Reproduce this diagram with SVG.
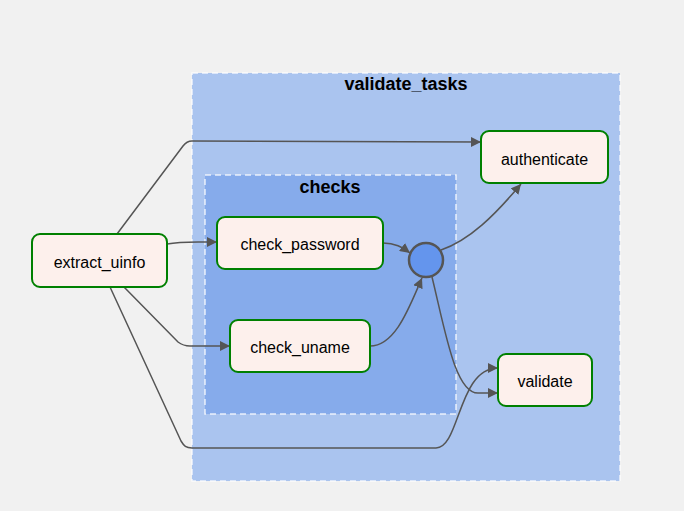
<svg xmlns="http://www.w3.org/2000/svg" width="684" height="511" viewBox="0 0 684 511">
<style>
.bg{fill:#f1f1f1}
.cl{stroke:#ffffff;stroke-width:1.5;stroke-dasharray:6,4;stroke-opacity:0.8}
.title{font-family:"Liberation Sans",Arial,sans-serif;font-size:18px;font-weight:bold;fill:#000;text-anchor:middle}
.node rect{fill:#fdf0ec;stroke:#008000;stroke-width:2}
.node text{font-family:"Liberation Sans",Arial,sans-serif;font-size:16px;fill:#000;text-anchor:middle}
.edges path{fill:none;stroke:#555;stroke-width:1.5}
</style>
<defs>
<marker id="arr" viewBox="0 0 10 10" refX="10" refY="5" markerWidth="10" markerHeight="10" markerUnits="userSpaceOnUse" orient="auto">
<path d="M0,0 L10,5 L0,10 z" fill="#555"/>
</marker>
</defs>
<rect class="bg" x="0" y="0" width="684" height="511"/>
<g id="cluster-validate_tasks">
<rect class="cl" x="192" y="73" width="428" height="408" fill="#aac4ef"/>
<text class="title" x="406" y="90">validate_tasks</text>
</g>
<g id="cluster-checks">
<rect class="cl" x="205" y="175" width="251" height="239" fill="#86abeb"/>
<text class="title" x="330" y="193">checks</text>
</g>
<g class="edges" id="edges">
<path d="M117,234 L183,146 C186,142 188,141 192,141 L481,142" marker-end="url(#arr)"/>
<path d="M167,244 C182,241 192,242 217,242" marker-end="url(#arr)"/>
<path d="M124,287 L178,342 C182,345 185,346 190,346 L230,346" marker-end="url(#arr)"/>
<path d="M110,287 L181,441 C184,446 186,448 192,448 L436,448 C460,448 458,368 498,368" marker-end="url(#arr)"/>
<path d="M383,243 C395,243 402,247 410,253" marker-end="url(#arr)"/>
<path d="M370,346 C396,346 410,305 422,278" marker-end="url(#arr)"/>
<path d="M441,250 C470,240 495,215 521,184" marker-end="url(#arr)"/>
<path d="M432,277 C445,330 455,393 478,393 L498,393" marker-end="url(#arr)"/>
</g>
<g class="node" id="node-extract_uinfo">
<rect x="32" y="234" width="135" height="53" rx="8"/>
<text x="99.5" y="268">extract_uinfo</text>
</g>
<g class="node" id="node-authenticate">
<rect x="481" y="131" width="127" height="52" rx="8"/>
<text x="544.5" y="165">authenticate</text>
</g>
<g class="node" id="node-check_password">
<rect x="217" y="217" width="166" height="52" rx="8"/>
<text x="300" y="250">check_password</text>
</g>
<g class="node" id="node-check_uname">
<rect x="230" y="320" width="140" height="52" rx="8"/>
<text x="300" y="353">check_uname</text>
</g>
<g class="node" id="node-validate">
<rect x="498" y="354" width="94" height="52" rx="8"/>
<text x="545" y="387">validate</text>
</g>
<g id="node-join">
<circle cx="426" cy="260" r="17" fill="#6495ed" stroke="#555" stroke-width="2.5"/>
</g>
</svg>
